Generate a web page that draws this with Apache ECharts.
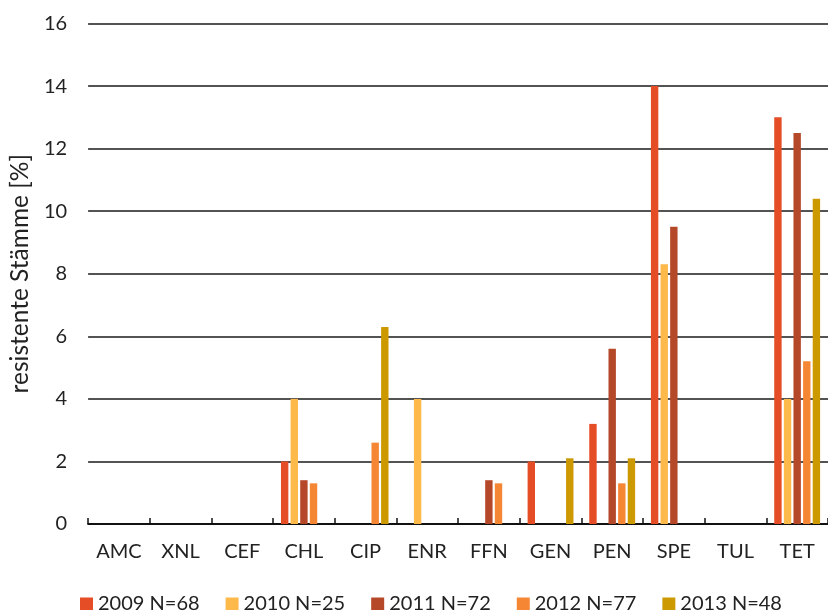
<!DOCTYPE html>
<html>
<head>
<meta charset="utf-8">
<style>
  html, body { margin: 0; padding: 0; background: #fff; }
  #chart { width: 828px; height: 610px; }
</style>
<script src="https://cdn.jsdelivr.net/npm/echarts@6/dist/echarts.min.js"></script>
</head>
<body>
<div id="chart"></div>
<script>
// Antibiotic classes tested
var categories = ['AMC', 'XNL', 'CEF', 'CHL', 'CIP', 'ENR', 'FFN', 'GEN', 'PEN', 'SPE', 'TUL', 'TET'];

// Share of resistant strains (%) per year
var y2009 = [0, 0, 0, 2.0, 0, 0, 0, 2.0, 3.2, 14.0, 0, 13.0];
var y2010 = [0, 0, 0, 4.0, 0, 4.0, 0, 0, 0, 8.3, 0, 4.0];
var y2011 = [0, 0, 0, 1.4, 0, 0, 1.4, 0, 5.6, 9.5, 0, 12.5];
var y2012 = [0, 0, 0, 1.3, 2.6, 0, 1.3, 0, 1.3, 0, 0, 5.2];
var y2013 = [0, 0, 0, 0, 6.3, 0, 0, 2.1, 2.1, 0, 0, 10.4];

var seriesNames = ['2009 N=68', '2010 N=25', '2011 N=72', '2012 N=77', '2013 N=48'];
var seriesData = [y2009, y2010, y2011, y2012, y2013];
var colors = ['#E44D26', '#FEB94B', '#B54828', '#F58633', '#CC9900'];

var yTicks = { min: 0, max: 16, interval: 2 };

var FONT = 'Lato';
var TEXT = '#222';

var chart = echarts.init(document.getElementById('chart'), null, { renderer: 'canvas' });

chart.setOption({
  animation: false,
  backgroundColor: '#fff',
  textStyle: { fontFamily: FONT, color: TEXT },
  color: colors,
  grid: { left: 86, top: 23.5, width: 752, height: 500.5, containLabel: false },
  legend: {
    left: 80,
    top: 594,
    padding: 0,
    icon: 'rect',
    itemWidth: 13,
    itemHeight: 13,
    itemGap: 26,
    textStyle: { fontFamily: FONT, fontSize: 20, color: TEXT },
    data: seriesNames
  },
  xAxis: {
    type: 'category',
    data: categories,
    boundaryGap: true,
    axisLine: { show: true, lineStyle: { color: '#111', width: 2 } },
    axisTick: { show: true, inside: true, length: 6, lineStyle: { color: '#111', width: 1.5 } },
    axisLabel: { margin: 18, fontFamily: FONT, fontSize: 20, color: TEXT }
  },
  yAxis: {
    type: 'value',
    min: yTicks.min,
    max: yTicks.max,
    interval: yTicks.interval,
    name: 'resistente Stämme [%]',
    nameLocation: 'middle',
    nameGap: 52,
    nameTextStyle: { fontFamily: FONT, fontSize: 24.5, color: TEXT },
    axisLine: { show: false },
    axisTick: { show: false },
    axisLabel: { margin: 21, fontFamily: FONT, fontSize: 20, color: TEXT },
    splitLine: { show: true, lineStyle: { color: '#1a1a1a', width: 1.5 } }
  },
  series: seriesNames.map(function (name, i) {
    return {
      name: name,
      type: 'bar',
      data: seriesData[i],
      barWidth: 7.4,
      barGap: '30%',
      itemStyle: { color: colors[i] }
    };
  })
});
</script>
</body>
</html>
